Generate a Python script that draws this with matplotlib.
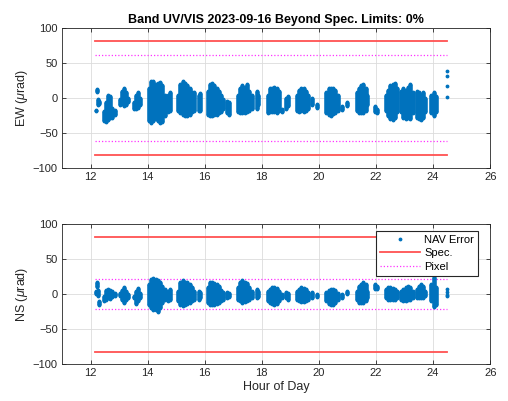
import matplotlib
matplotlib.use("Agg")
import matplotlib.pyplot as plt
from matplotlib.lines import Line2D

plt.rcParams['font.family'] = ['Liberation Sans', 'DejaVu Sans']
plt.rcParams['mathtext.fontset'] = 'custom'
plt.rcParams['mathtext.it'] = 'Liberation Sans:italic'
plt.rcParams['mathtext.rm'] = 'Liberation Sans'

# strips of samples: hour, EW range, NS range (urad)
hours = [12.18, 12.22, 12.25, 12.30,
         12.48, 12.55, 12.62, 12.68, 12.76, 12.84,
         13.02, 13.10, 13.18, 13.25, 13.30,
         13.52, 13.60, 13.68, 13.74,
         14.05, 14.12, 14.20, 14.28, 14.36, 14.44, 14.52, 14.60,
         14.70, 14.78,
         15.08, 15.15, 15.23, 15.31, 15.39, 15.47, 15.55, 15.63,
         15.80, 15.83,
         16.10, 16.18, 16.26, 16.34, 16.42, 16.50, 16.58, 16.65,
         16.78, 16.84,
         17.16, 17.24, 17.32, 17.40, 17.48, 17.56, 17.64,
         17.82, 17.87,
         18.20, 18.28, 18.36, 18.44, 18.52, 18.60,
         18.70, 18.86, 18.90,
         19.22, 19.30, 19.38, 19.46, 19.54, 19.62,
         19.75, 19.92,
         20.26, 20.34, 20.42, 20.50, 20.58, 20.66,
         20.80, 20.98,
         21.32, 21.40, 21.48, 21.56, 21.64, 21.70,
         21.98, 22.03,
         22.34, 22.42, 22.50, 22.58, 22.66, 22.74,
         22.88, 22.96, 23.04, 23.12, 23.20, 23.28,
         23.42, 23.50, 23.58, 23.66, 23.72,
         23.94, 24.02, 24.10]
ew_lo = [-19, 9, -10, -8,
         -33, -34, -32, -28, -28, -24,
         -10, -8, -12, -10, -5,
         -15, -16, -14, -10,
         -33, -35, -33, -30, -33, -36, -34, -25,
         -20, -18,
         -18, -22, -24, -26, -25, -24, -20, -18,
         -18, -19,
         -24, -25, -26, -24, -24, -22, -20, -15,
         -22, -24,
         -20, -21, -22, -21, -20, -18, -15,
         -15, -10,
         -22, -20, -20, -20, -22, -18,
         -20, -15, -12,
         -18, -20, -19, -20, -18, -15,
         -10, -14,
         -22, -24, -25, -23, -22, -18,
         -17, -12,
         -18, -21, -22, -22, -18, -10,
         -20, -22,
         -18, -25, -30, -32, -28, -20,
         -20, -28, -30, -28, -30, -22,
         -28, -30, -32, -28, -20,
         -22, -25, -20]
ew_hi = [-17, 13, -2, -4,
         -18, -5, 5, 3, -14, -17,
         -2, 10, 14, 8, 0,
         -5, 5, 8, 0,
         15, 25, 24, 20, 22, 23, 18, 5,
         5, 9,
         5, 20, 24, 22, 18, 14, 8, 8,
         5, 7,
         10, 20, 22, 18, 14, 10, 5, -2,
         -4, -6,
         5, 15, 18, 16, 20, 10, 5,
         10, 5,
         5, 14, 15, 16, 15, 10,
         -15, 0, 3,
         5, 12, 15, 14, 10, 5,
         0, -8,
         8, 14, 15, 14, 12, 5,
         -12, -5,
         8, 15, 18, 20, 15, 5,
         -12, -15,
         5, 12, 18, 20, 22, 15,
         10, 14, 12, 16, 20, 8,
         10, 8, 5, 8, 0,
         5, 8, 3]
ns_lo = [0, 10, -3, -15,
         -10, -8, -5, -7, -4, -3,
         -3, -8, -12, -8, -5,
         -6, -14, -10, -5,
         -15, -20, -22, -22, -26, -20, -12, -8,
         -10, -8,
         -10, -15, -17, -16, -14, -12, -10, -8,
         -8, -6,
         -12, -15, -16, -15, -14, -12, -10, -8,
         -5, -4,
         -8, -10, -12, -11, -10, -8, -6,
         -5, -4,
         -10, -13, -14, -15, -14, -10,
         -5, -5, -8,
         -8, -10, -11, -11, -10, -8,
         -6, -4,
         -10, -14, -16, -15, -12, -8,
         -5, 0,
         -8, -12, -13, -12, -10, -5,
         8, 7,
         -5, -8, -9, -9, -8, -5,
         -8, -10, -10, -9, -8, -5,
         -5, -6, -6, -5, -3,
         -10, -18, -15]
ns_hi = [5, 18, 6, -10,
         -3, 6, 8, 6, 4, 2,
         2, 6, 10, 5, 0,
         -2, 5, 9, 2,
         15, 22, 23, 22, 20, 18, 12, 8,
         5, 8,
         5, 18, 20, 18, 17, 15, 10, 5,
         5, 3,
         10, 18, 18, 16, 14, 12, 6, 3,
         3, 2,
         10, 18, 20, 18, 16, 10, 5,
         8, 4,
         5, 8, 10, 10, 9, 5,
         0, 3, 2,
         5, 8, 10, 9, 8, 3,
         3, 0,
         3, 6, 8, 7, 6, 2,
         0, 5,
         5, 12, 15, 18, 14, 5,
         14, 12,
         8, 10, 10, 9, 8, 5,
         5, 8, 10, 11, 10, 5,
         8, 12, 14, 12, 5,
         15, 25, 10]

# last few isolated samples at the end of the day
end_hours = [24.5, 24.5, 24.5, 24.5]
end_ew = [38, 32, 17, 1]
end_ns = [7, 3, -1, -3]

spec_limit = 82
pixel_ew = 62
pixel_ns = 21
line_start, line_end = 12.15, 24.5

title = 'Band UV/VIS 2023-09-16 Beyond Spec. Limits: 0%'

blue = '#0072BD'
red = '#FF5252'
mag = '#FF33FF'
grey = '#262626'
dots = (0, (1, 1.6))

fig = plt.figure(figsize=(5.08, 4.01), dpi=100)
ax1 = fig.add_axes([0.122, 0.581, 0.843, 0.349])
ax2 = fig.add_axes([0.122, 0.092, 0.843, 0.349])


def draw(ax, lo, hi, end_vals, pixel, ylabel):
    ax.vlines(hours, lo, hi, colors=blue, lw=3.3, zorder=3)
    ax.plot(hours + hours + end_hours, lo + hi + end_vals, '.', color=blue,
            ms=3.5, zorder=3, label='NAV Error')
    ax.plot([line_start, line_end], [spec_limit, spec_limit], color=red, lw=1.3, label='Spec.')
    ax.plot([line_start, line_end], [-spec_limit, -spec_limit], color=red, lw=1.3)
    ax.plot([line_start, line_end], [pixel, pixel], color=mag, lw=0.9, ls=dots, label='Pixel')
    ax.plot([line_start, line_end], [-pixel, -pixel], color=mag, lw=0.9, ls=dots)
    ax.set_xlim(11, 26)
    ax.set_ylim(-100, 100)
    ax.set_xticks(range(12, 27, 2))
    ax.set_yticks([-100, -50, 0, 50, 100])
    ax.grid(True, color='#DCDCDC', lw=0.6)
    ax.set_axisbelow(True)
    ax.tick_params(direction='in', length=3, width=0.6, labelsize=8, colors=grey,
                   top=True, right=True, pad=3)
    for s in ax.spines.values():
        s.set_color(grey)
        s.set_linewidth(0.6)
    ax.set_ylabel(ylabel, fontsize=9, color=grey, labelpad=2)


draw(ax1, ew_lo, ew_hi, end_ew, pixel_ew, r'EW ($\mu$rad)')
draw(ax2, ns_lo, ns_hi, end_ns, pixel_ns, r'NS ($\mu$rad)')

ax1.set_title(title, fontsize=9, fontweight='bold', pad=4)
ax2.set_xlabel('Hour of Day', fontsize=9, color=grey, labelpad=2)

handles = [Line2D([], [], ls='none', marker='.', ms=3.5, color=blue),
           Line2D([], [], color=red, lw=1.3),
           Line2D([], [], color=mag, lw=0.9, ls=dots)]
leg = ax2.legend(handles, ['NAV Error', 'Spec.', 'Pixel'], loc='upper right',
                 bbox_to_anchor=(0.972, 0.95), fontsize=8, fancybox=False,
                 framealpha=1, edgecolor=grey, borderpad=0.35, labelspacing=0.3,
                 handlelength=3.6, handletextpad=0.4, borderaxespad=0)
leg.get_frame().set_linewidth(0.8)
leg.set_zorder(5)

fig.savefig('out.png', dpi=100)
